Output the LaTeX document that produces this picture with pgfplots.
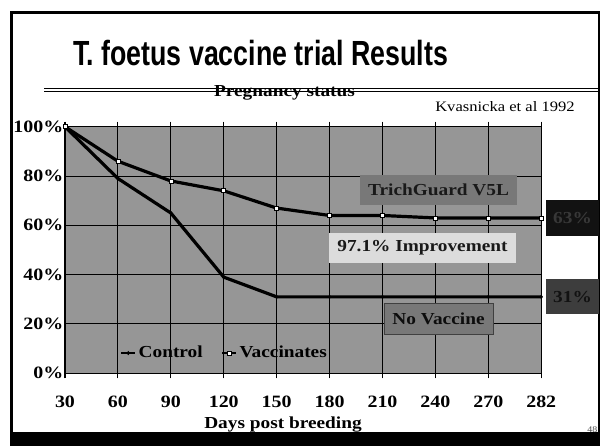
\documentclass[border=0pt]{standalone}
\usepackage{fontspec}
\setmainfont{Liberation Serif}[FakeStretch=1.15]
\newfontfamily\titlefont{Liberation Sans Bold}[FakeStretch=0.766]
\usepackage{pgfplots}
\pgfplotsset{compat=1.18}
\definecolor{plotbg}{HTML}{969696}
\definecolor{boxmid}{HTML}{787878}
\definecolor{boxlight}{HTML}{DCDCDC}
\begin{document}
\begin{tikzpicture}
\begin{scope}[x=0.75pt,y=-0.75pt]
\fill[white] (0,0) rectangle (600,446);
\fill[black] (10,431.5) rectangle (600,446);
\fill[black] (10,11) rectangle (600,13.5);
\fill[black] (10,11) rectangle (12.7,446);
\fill[black] (597.7,11) rectangle (600,446);
\draw[line width=0.8pt] (44,88.3) -- (598,88.3);
\draw[line width=0.8pt] (44,91.7) -- (598,91.7);
\node[anchor=base west, font=\titlefont\fontsize{26.2}{30}\selectfont, inner sep=0] at (73,65) {T. foetus vaccine trial Results};
\node[anchor=base, font=\bfseries\fontsize{12.6}{14}\selectfont, inner sep=0] at (284.5,96.7) {Pregnancy status};
\node[anchor=base west, font=\fontsize{10.8}{12}\selectfont, inner sep=0] at (435,111.7) {Kvasnicka et al 1992};
\node[anchor=base, font=\bfseries\fontsize{12.6}{14}\selectfont, inner sep=0] at (283,428.5) {Days post breeding};
\node[anchor=base east, font=\fontsize{6.5}{7}\selectfont, text=black!70, inner sep=0] at (597.5,432) {48};
\end{scope}
\begin{axis}[
  at={(48.75pt,-279.975pt)}, anchor=south west,
  scale only axis, width=357.2pt, height=184.95pt,
  xmin=0, xmax=9, ymin=0, ymax=100,
  xtick={0,1,2,3,4,5,6,7,8,9},
  xticklabels={30,60,90,120,150,180,210,240,270,282},
  ytick={0,20,40,60,80,100},
  yticklabels={0\%,20\%,40\%,60\%,80\%,100\%},
  axis background/.style={fill=plotbg},
  grid=major, major grid style={black, line width=0.75pt},
  axis line style={black, line width=0.75pt},
  tick align=outside, major tick length=3.75pt,
  xtick style={black, line width=0.75pt},
  ytick style={draw=none},
  ticklabel style={font=\bfseries\fontsize{13}{14}\selectfont},
  xticklabel style={yshift=-10pt},
  yticklabel style={xshift=6pt},
  legend style={at={(0.336,0.082)}, anchor=center, draw=none, fill=none,
    font=\bfseries\fontsize{12.6}{14}\selectfont, legend columns=2,
    /tikz/every even column/.append style={column sep=12pt},
    inner sep=0pt},
  legend image code/.code={\draw[mark repeat=2,mark phase=2,#1,line width=1.1pt] plot coordinates {(0pt,0pt) (5.25pt,0pt) (10.5pt,0pt)};},
  clip=false,
]
\addplot[black, line width=2.4pt, mark=diamond*, mark size=1.3pt, mark options={line width=0.4pt, fill=black}]
  coordinates {(0,100) (1,79) (2,65) (3,39) (4,31) (5,31) (6,31) (7,31) (8,31) (9,31)};
\addlegendentry{Control}
\addplot[black, line width=2.4pt, mark=square*, mark size=1.5pt, mark options={line width=0.5pt, fill=white, draw=black}]
  coordinates {(0,100) (1,86) (2,78) (3,74) (4,67) (5,64) (6,64) (7,63) (8,63) (9,63)};
\addlegendentry{Vaccinates}
\end{axis}
\begin{scope}[x=0.75pt,y=-0.75pt, lbl/.style={inner sep=0pt, anchor=center, font=\bfseries\fontsize{12.6}{14}\selectfont}]
\node[lbl, fill=boxmid, text=black!90, minimum width=117.75pt, minimum height=22.5pt] at (438.5,190) {TrichGuard V5L};
\node[lbl, fill=boxlight, text=black!90, minimum width=140.25pt, minimum height=22.5pt] at (422.5,248) {97.1\% Improvement};
\node[lbl, fill=boxmid, draw=black!75, line width=0.75pt, text=black!95, minimum width=81.75pt, minimum height=23.25pt] at (438.5,318.5) {No Vaccine};
\node[lbl, fill=black!93, text=black!78, minimum width=39.75pt, minimum height=27pt] at (572.5,218) {63\%};
\node[lbl, fill=black!76, text=black!93, minimum width=39.75pt, minimum height=26.25pt] at (572.5,296.7) {31\%};
\end{scope}
\end{tikzpicture}
\end{document}
